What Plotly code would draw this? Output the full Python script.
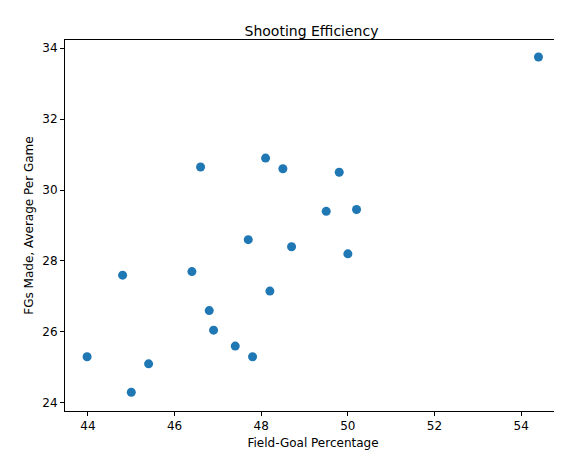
import plotly.graph_objects as go

fg_pct = [54.4, 43.98, 45.0, 45.4, 44.8, 46.4, 46.6, 46.8, 46.9, 47.4,
          47.8, 47.7, 48.1, 48.2, 48.5, 48.7, 49.5, 49.8, 50.0, 50.2]
fg_made = [33.75, 25.3, 24.3, 25.1, 27.6, 27.7, 30.65, 26.6, 26.05, 25.6,
           25.3, 28.6, 30.9, 27.15, 30.6, 28.4, 29.4, 30.5, 28.2, 29.45]

fig = go.Figure(go.Scatter(x=fg_pct, y=fg_made, mode="markers",
                           marker=dict(color="#1f77b4", size=9)))

axis = dict(showgrid=False, zeroline=False, showline=True, mirror=True,
            linecolor="black", linewidth=1, ticks="outside", ticklen=4,
            tickcolor="black", tickfont=dict(size=12, color="black"),
            automargin=False)
fig.update_xaxes(axis, range=[43.47, 54.92], tickvals=[44, 46, 48, 50, 52, 54],
                 title=dict(text="Field-Goal Percentage", standoff=6,
                            font=dict(size=12, color="black")))
fig.update_yaxes(axis, range=[23.77, 34.23], tickvals=[24, 26, 28, 30, 32, 34],
                 title=dict(text="FGs Made, Average Per Game", standoff=6,
                            font=dict(size=12, color="black")))
fig.update_layout(
    width=562, height=455, plot_bgcolor="white", paper_bgcolor="white",
    font=dict(family="DejaVu Sans"),
    title=dict(text="Shooting Efficiency", x=0.54, xanchor="center", y=0.96,
               font=dict(size=14, color="black")),
    margin=dict(l=57, r=9, t=32, b=52), showlegend=False)

fig.write_html("out.html")
